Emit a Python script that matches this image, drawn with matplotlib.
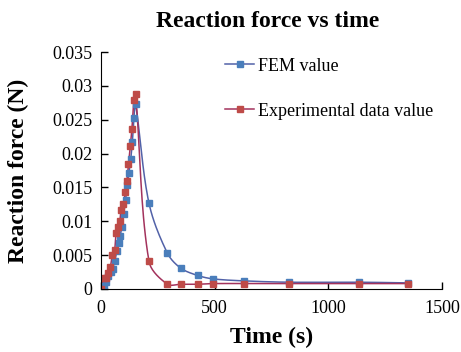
import numpy as np
import matplotlib
matplotlib.use('Agg')
import matplotlib.pyplot as plt

## data #######################################################################
fem_t = [0, 13, 23, 32, 42, 51, 60, 70, 79, 85, 91, 100, 108, 116, 123, 131,
         138, 145, 152, 211, 292, 350, 425, 492, 627, 829, 1134, 1349]
fem_f = [0, 0.0005, 0.0011, 0.0019, 0.0025, 0.0030, 0.0041, 0.0056, 0.0068,
         0.0078, 0.0092, 0.0111, 0.0131, 0.0153, 0.0172, 0.0192, 0.0217,
         0.0253, 0.0273, 0.0127, 0.0053, 0.0031, 0.0020, 0.0015, 0.0012,
         0.0010, 0.0010, 0.0009]

exp_t = [0, 13, 23, 32, 41, 50, 60, 67, 76, 83, 89, 99, 107, 114, 121, 129,
         136, 145, 152, 211, 292, 350, 425, 492, 627, 829, 1134, 1349]
exp_f = [0, 0.0016, 0.0016, 0.0024, 0.0032, 0.0050, 0.0058, 0.0083, 0.0092,
         0.0101, 0.0117, 0.0126, 0.0143, 0.0160, 0.0185, 0.0211, 0.0236,
         0.0279, 0.0288, 0.0041, 0.0007, 0.0007, 0.0007, 0.0008, 0.0008,
         0.0008, 0.0008, 0.0008]

x_ticks = [0, 500, 1000, 1500]
y_ticks = [0, 0.005, 0.01, 0.015, 0.02, 0.025, 0.03, 0.035]
y_ticklabels = ['0', '0.005', '0.01', '0.015', '0.02', '0.025', '0.03', '0.035']

xmax, ymax = 1500, 0.035


# smoothed line like the spreadsheet "smooth line" option: bezier pieces with
# tangents scaled by the neighbouring segment lengths (in screen proportions)
def smooth(x, y, n=20, t=0.5):
    sx, sy = 341.0 / xmax, 237.0 / ymax
    P = np.column_stack([np.asarray(x, float) * sx, np.asarray(y, float) * sy])
    N = len(P)
    cin, cout = P.copy(), P.copy()
    for i in range(1, N - 1):
        d = P[i+1] - P[i-1]
        l0 = np.hypot(*(P[i] - P[i-1]))
        l1 = np.hypot(*(P[i+1] - P[i]))
        cin[i] = P[i] - d * t * l0 / (l0 + l1) * 2 / 3
        cout[i] = P[i] + d * t * l1 / (l0 + l1) * 2 / 3
    s = np.linspace(0, 1, n)[:, None]
    pts = []
    for i in range(N - 1):
        a, b, c, e = P[i], cout[i], cin[i+1], P[i+1]
        pts.append((1-s)**3*a + 3*(1-s)**2*s*b + 3*(1-s)*s**2*c + s**3*e)
    pts = np.vstack(pts)
    return pts[:, 0] / sx, pts[:, 1] / sy


plt.rcParams['font.family'] = ['Liberation Serif', 'DejaVu Serif']

fig = plt.figure(figsize=(4.61, 3.52), dpi=100, facecolor='white')
ax = fig.add_axes([0.219, 0.179, 0.740, 0.673])

blue_m, blue_l = '#4A7EBB', '#5262A8'
red_m, red_l = '#BE4B48', '#A3325C'
ms = 4.0

lx, ly = smooth(fem_t, fem_f)
ax.plot(lx, ly, color=blue_l, lw=1.1)
lx, ly = smooth(exp_t, exp_f)
ax.plot(lx, ly, color=red_l, lw=1.1)
ax.plot(fem_t, fem_f, 's', color=blue_m, ms=ms, mec=blue_m)
ax.plot(exp_t, exp_f, 's', color=red_m, ms=ms, mec=red_m)

# legend proxies
h1, = ax.plot([], [], '-s', color=blue_l, mfc=blue_m, mec=blue_m, ms=ms, lw=1.1)
h2, = ax.plot([], [], '-s', color=red_l, mfc=red_m, mec=red_m, ms=ms, lw=1.1)
ax.legend([h1, h2], ['FEM value', 'Experimental data value'],
          loc='upper left', bbox_to_anchor=(0.453, 0.882),
          bbox_transform=fig.transFigure, frameon=False, fontsize=13,
          labelspacing=1.55, handlelength=1.6, handletextpad=0.25)

ax.set_xlim(0, xmax)
ax.set_ylim(0, ymax)
ax.set_xticks(x_ticks)
ax.set_yticks(y_ticks)
ax.set_yticklabels(y_ticklabels)
ax.tick_params(direction='in', length=5, labelsize=13, width=1)
ax.tick_params(axis='x', pad=8)
ax.tick_params(axis='y', pad=6)
ax.spines['top'].set_visible(False)
ax.spines['right'].set_visible(False)

ax.set_xlabel('Time (s)', fontsize=17, fontweight='bold', labelpad=7)
ax.set_ylabel('Reaction force (N)', fontsize=17, fontweight='bold', labelpad=17)
fig.suptitle('Reaction force vs time', x=0.58, y=0.968, fontsize=17,
             fontweight='bold')

plt.savefig('out.png', dpi=100)
